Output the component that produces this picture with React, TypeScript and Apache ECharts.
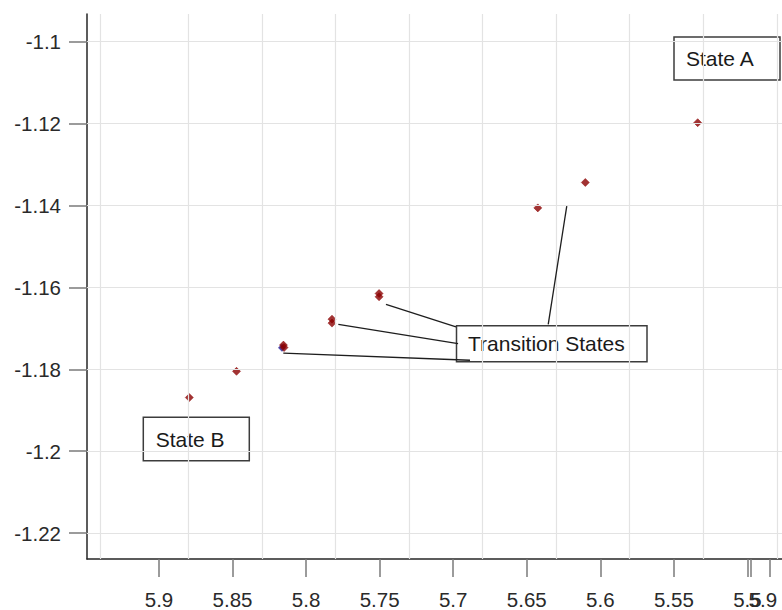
import React, { useEffect, useRef } from "react";
import * as echarts from "echarts";

// ---- data ----
const STATE_X = [5.5338, 5.6102, 5.6425, 5.7504, 5.7504, 5.7824, 5.7824, 5.8154, 5.815, 5.8473, 5.8794];
const STATE_Y = [-1.1198, -1.1344, -1.1406, -1.1615, -1.1623, -1.16776, -1.16873, -1.17409, -1.1747, -1.1805, -1.1869];
const BLUE_X = [5.8164];
const BLUE_Y = [-1.17477];

const X_TICKS = [5.9, 5.85, 5.8, 5.75, 5.7, 5.65, 5.6, 5.55, 5.5, 5.498, 5.485];
const X_LABEL_VALUES = [5.9, 5.85, 5.8, 5.75, 5.7, 5.65, 5.6, 5.55, 5.5];
const X_LABELS = ["5.9", "5.85", "5.8", "5.75", "5.7", "5.65", "5.6", "5.55", "5.5"];
const X_EXTRA_LABEL_VALUES = [5.4895];
const X_EXTRA_LABELS = ["5.9"];
const X_GRID = [5.9353, 5.8769, 5.8273, 5.777, 5.7266, 5.6763, 5.6274, 5.5771, 5.5268, 5.4778];

const Y_TICKS = [-1.1, -1.12, -1.14, -1.16, -1.18, -1.2, -1.22];
const Y_LABELS = ["-1.1", "-1.12", "-1.14", "-1.16", "-1.18", "-1.2", "-1.22"];

const X_MAX = 5.94895;
const X_MIN = 5.47648;
const Y_MAX = -1.09327;
const Y_MIN = -1.22631;

// leader lines from the "Transition States" box to the points (data coords)
const LEADERS: [number, number, number, number][] = [
  [5.7457, -1.16416, 5.6981, -1.16966],
  [5.7781, -1.16903, 5.6967, -1.17372],
  [5.8155, -1.17603, 5.6886, -1.17779],
  [5.6228, -1.14015, 5.6354, -1.16903],
];

const FONT = '"Liberation Sans", Arial, sans-serif';

function nearestLabel(v: number, vals: number[], labels: string[]) {
  let bi = 0;
  let bd = Infinity;
  vals.forEach((x, i) => {
    const d = Math.abs(x - v);
    if (d < bd) {
      bd = d;
      bi = i;
    }
  });
  return labels[bi];
}

function box(x: number, y: number, w: number, h: number, text: string, tx: number) {
  return {
    type: "group",
    z: 100,
    children: [
      {
        type: "rect",
        shape: { x, y, width: w, height: h },
        style: { fill: "#ffffff", stroke: "#3c3c3c", lineWidth: 1.5 },
      },
      {
        type: "text",
        x: tx,
        y: y + h / 2,
        style: {
          text,
          fill: "#1a1a1a",
          fontSize: 21,
          fontFamily: FONT,
          verticalAlign: "middle",
          align: "left",
        },
      },
    ],
  };
}

const labelStyle = {
  fontSize: 20.5,
  fontFamily: FONT,
  color: "#2a2a2a",
};

export default function App() {
  const ref = useRef<HTMLDivElement>(null);
  useEffect(() => {
    if (!ref.current) return;
    const chart = echarts.init(ref.current, undefined, { renderer: "svg" });
    const points = STATE_X.map((x, i) => [x, STATE_Y[i]]);
    const blue = BLUE_X.map((x, i) => [x, BLUE_Y[i]]);
    chart.setOption({
      animation: false,
      backgroundColor: "#ffffff",
      grid: { left: 87, top: 14, bottom: 48, right: 0 },
      xAxis: [
        {
          type: "value",
          inverse: true,
          min: X_MIN,
          max: X_MAX,
          axisLine: { show: true, onZero: false, lineStyle: { color: "#262626", width: 1.5 } },
          axisTick: {
            show: true,
            customValues: X_TICKS,
            length: 18,
            lineStyle: { color: "#7a7a7a", width: 1.5 },
          },
          minorTick: { show: false },
          axisLabel: {
            ...labelStyle,
            customValues: X_LABEL_VALUES,
            formatter: (v: number) => nearestLabel(v, X_LABEL_VALUES, X_LABELS),
            margin: 30,
            hideOverlap: false,
          },
          splitLine: { show: false },
        },
        {
          type: "value",
          position: "bottom",
          inverse: true,
          min: X_MIN,
          max: X_MAX,
          axisLine: { show: false, onZero: false },
          axisTick: { show: false },
          axisLabel: {
            ...labelStyle,
            customValues: X_EXTRA_LABEL_VALUES,
            formatter: (v: number) => nearestLabel(v, X_EXTRA_LABEL_VALUES, X_EXTRA_LABELS),
            margin: 30,
          },
          splitLine: { show: false },
        },
      ],
      yAxis: {
        type: "value",
        min: Y_MIN,
        max: Y_MAX,
        axisLine: { show: true, onZero: false, lineStyle: { color: "#262626", width: 1.5 } },
        axisTick: {
          show: true,
          customValues: Y_TICKS,
          length: 18,
          lineStyle: { color: "#7a7a7a", width: 1.5 },
        },
        axisLabel: {
          ...labelStyle,
          customValues: Y_TICKS,
          formatter: (v: number) => nearestLabel(v, Y_TICKS, Y_LABELS),
          margin: 26,
        },
        splitLine: { show: false },
      },
      series: [
        {
          type: "scatter",
          data: [],
          z: 1,
          silent: true,
          markLine: {
            silent: true,
            symbol: ["none", "none"],
            label: { show: false },
            lineStyle: { color: "#e3e3e3", width: 1.2, type: "solid" },
            emphasis: { disabled: true },
            data: [
              ...X_GRID.map((v) => ({ xAxis: v })),
              ...Y_TICKS.map((v) => ({ yAxis: v })),
            ],
          },
        },
        {
          type: "scatter",
          data: blue,
          symbol: "diamond",
          symbolSize: 8,
          itemStyle: { color: "#2020a0" },
          z: 2,
          silent: true,
        },
        {
          type: "scatter",
          data: points,
          symbol: "diamond",
          symbolSize: 8,
          itemStyle: { color: "#8b0000", borderColor: "#8b0000", borderWidth: 0.6 },
          z: 3,
          silent: true,
        },
        {
          type: "scatter",
          data: [],
          z: 4,
          silent: true,
          markLine: {
            silent: true,
            symbol: ["none", "none"],
            label: { show: false },
            lineStyle: { color: "#1e1e1e", width: 1.3, type: "solid" },
            emphasis: { disabled: true },
            data: LEADERS.map(([x1, y1, x2, y2]) => [{ coord: [x1, y1] }, { coord: [x2, y2] }]),
          },
        },
      ],
      graphic: [
        box(674, 37, 106, 43, "State A", 686),
        box(456.5, 325.7, 190.5, 36, "Transition States", 468),
        box(143.3, 417.3, 106, 43.4, "State B", 155.7),
      ],
    });
    return () => chart.dispose();
  }, []);
  return (
    <div
      ref={ref}
      style={{ position: "fixed", left: 0, top: 0, width: 782, height: 610, background: "#fff" }}
    />
  );
}
